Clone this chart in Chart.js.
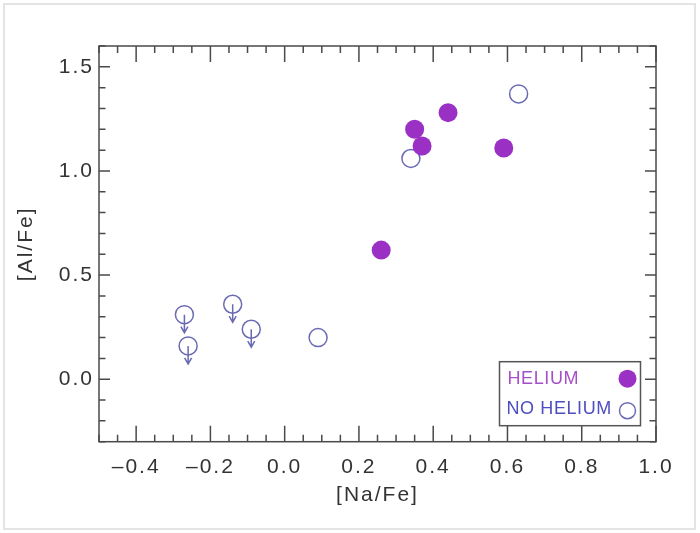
<!DOCTYPE html>
<html>
<head>
<meta charset="utf-8">
<script src="https://cdn.jsdelivr.net/npm/chart.js@4/dist/chart.umd.min.js"></script>
<style>
  body { margin: 0; background: #fff; }
  #wrap { width: 700px; height: 533px; }
</style>
</head>
<body>
<div id="wrap"><canvas id="myChart" width="700" height="533"></canvas></div>
<script>
// stars with helium enhancement
let heliumNa = [0.26, 0.35, 0.37, 0.44, 0.59];
let heliumAl = [0.62, 1.20, 1.12, 1.28, 1.11];
// stars without helium (some are upper limits in [Al/Fe])
let noHeliumNa = [0.34, 0.63, -0.27, -0.26, -0.14, -0.09, 0.09];
let noHeliumAl = [1.06, 1.37, 0.31, 0.16, 0.36, 0.24, 0.20];
let noHeliumUpper = [false, false, true, true, true, true, false];
// tick labels
let xTicks = [-0.4, -0.2, 0.0, 0.2, 0.4, 0.6, 0.8, 1.0];
let yTicks = [0.0, 0.5, 1.0, 1.5];

let purple = '#9a30c4';
let blue = '#6a6ab2';
let tickFont = { family: "'Liberation Sans', Arial, sans-serif", size: 21 };

function fmt(v) {
    let s = Number(v).toFixed(1);
    return s.replace('-', '\u2013');
}

// light frame round the picture, wider text like the original
let framePlugin = {
    id: 'frame',
    beforeDraw(chart) {
        let ctx = chart.ctx;
        ctx.save();
        ctx.fillStyle = '#fff';
        ctx.fillRect(0, 0, chart.width, chart.height);
        ctx.strokeStyle = '#e4e4e4';
        ctx.lineWidth = 2;
        ctx.strokeRect(4, 4, 691, 525);
        ctx.restore();
        ctx.letterSpacing = '2px';
    }
};

// box + inward ticks on all four sides
let boxPlugin = {
    id: 'box',
    afterDraw(chart) {
        let ctx = chart.ctx;
        let a = chart.chartArea;
        let xs = chart.scales.x, ys = chart.scales.y;
        ctx.save();
        ctx.strokeStyle = '#4a4a4a';
        ctx.lineWidth = 1.5;
        ctx.strokeRect(a.left, a.top, a.right - a.left, a.bottom - a.top);
        ctx.beginPath();
        for (let i = 0; i <= 30; i++) {
            let v = -0.5 + i * 0.05;
            let px = xs.getPixelForValue(v);
            let len = (i % 4 === 2) ? 16 : 7;
            ctx.moveTo(px, a.bottom); ctx.lineTo(px, a.bottom - len);
            ctx.moveTo(px, a.top); ctx.lineTo(px, a.top + len);
        }
        for (let i = 0; i <= 19; i++) {
            let v = -0.3 + i * 0.1;
            let py = ys.getPixelForValue(v);
            let len = (i % 5 === 3) ? 11 : 6.5;
            ctx.moveTo(a.left, py); ctx.lineTo(a.left + len, py);
            ctx.moveTo(a.right, py); ctx.lineTo(a.right - len, py);
        }
        ctx.stroke();
        ctx.restore();
    }
};

// downward arrows for upper limits
let arrowPlugin = {
    id: 'arrows',
    afterDatasetsDraw(chart) {
        let ctx = chart.ctx;
        let meta = chart.getDatasetMeta(1);
        ctx.save();
        ctx.strokeStyle = blue;
        ctx.lineWidth = 1.5;
        meta.data.forEach((pt, i) => {
            if (!noHeliumUpper[i]) return;
            ctx.beginPath();
            ctx.moveTo(pt.x, pt.y);
            ctx.lineTo(pt.x, pt.y + 18);
            ctx.moveTo(pt.x - 3.5, pt.y + 12);
            ctx.lineTo(pt.x, pt.y + 18);
            ctx.lineTo(pt.x + 3.5, pt.y + 12);
            ctx.stroke();
        });
        ctx.restore();
    }
};

// legend box inside the lower right corner
let legendPlugin = {
    id: 'boxLegend',
    afterDraw(chart) {
        let ctx = chart.ctx;
        let a = chart.chartArea;
        let w = 141, h = 64;
        let left = a.right - 15.5 - w, top = a.bottom - 16 - h;
        ctx.save();
        ctx.fillStyle = '#fff';
        ctx.fillRect(left, top, w, h);
        ctx.strokeStyle = '#555';
        ctx.lineWidth = 1.5;
        ctx.strokeRect(left, top, w, h);
        ctx.font = "18px 'Liberation Sans', Arial, sans-serif";
        ctx.letterSpacing = '0.6px';
        ctx.textBaseline = 'middle';
        ctx.fillStyle = '#a650c8';
        ctx.fillText(chart.data.datasets[0].label, left + 8, top + 17);
        ctx.fillStyle = '#4e4ec0';
        ctx.fillText(chart.data.datasets[1].label, left + 7, top + 47);
        ctx.beginPath();
        ctx.arc(left + 128, top + 17, 9, 0, Math.PI * 2);
        ctx.fillStyle = purple;
        ctx.fill();
        ctx.beginPath();
        ctx.arc(left + 128, top + 49, 8, 0, Math.PI * 2);
        ctx.strokeStyle = blue;
        ctx.lineWidth = 1.5;
        ctx.stroke();
        ctx.restore();
    }
};

let myChart = document.getElementById('myChart').getContext('2d');

let chart = new Chart(myChart, {
    type: 'scatter',
    data: {
        datasets: [{
            label: 'HELIUM',
            data: heliumNa.map((v, i) => ({ x: v, y: heliumAl[i] })),
            backgroundColor: purple,
            borderColor: purple,
            borderWidth: 0,
            pointRadius: 9.5,
            pointHoverRadius: 9.5
        }, {
            label: 'NO HELIUM',
            data: noHeliumNa.map((v, i) => ({ x: v, y: noHeliumAl[i] })),
            backgroundColor: 'rgba(255,255,255,0)',
            borderColor: blue,
            borderWidth: 1.5,
            pointRadius: 9,
            pointHoverRadius: 9
        }]
    },
    options: {
        responsive: false,
        animation: false,
        events: [],
        layout: { padding: { top: 46, right: 44, left: 0, bottom: 0 } },
        plugins: {
            legend: { display: false },
            tooltip: { enabled: false }
        },
        scales: {
            x: {
                type: 'linear',
                min: -0.5,
                max: 1.0,
                afterBuildTicks: s => { s.ticks = xTicks.map(v => ({ value: v })); },
                afterFit: s => { s.height = 91.3; },
                grid: { display: false, drawTicks: false },
                border: { display: false },
                ticks: { font: tickFont, color: '#333', padding: 13, maxRotation: 0, callback: v => fmt(v) },
                title: { display: true, text: '[Na/Fe]', font: tickFont, color: '#333', padding: { top: 0, bottom: 25 } }
            },
            y: {
                type: 'linear',
                min: -0.3,
                max: 1.6,
                afterBuildTicks: s => { s.ticks = yTicks.map(v => ({ value: v })); },
                afterFit: s => { s.width = 99; },
                grid: { display: false, drawTicks: false },
                border: { display: false },
                ticks: { font: tickFont, color: '#333', padding: 5, callback: v => fmt(v) },
                title: { display: true, text: '[Al/Fe]', font: tickFont, color: '#333', padding: { top: 14, bottom: 0 } }
            }
        }
    },
    plugins: [framePlugin, boxPlugin, arrowPlugin, legendPlugin]
});
</script>
</body>
</html>
